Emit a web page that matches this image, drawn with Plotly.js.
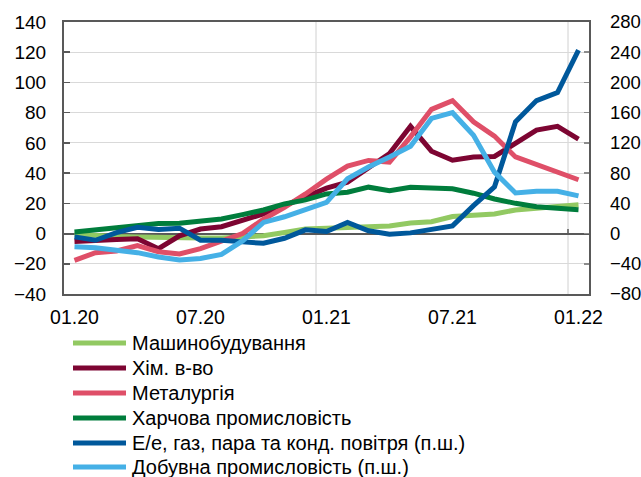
<!DOCTYPE html>
<html>
<head>
<meta charset="utf-8">
<script src="https://cdn.plot.ly/plotly-3.0.1.min.js"></script>
<style>html,body{margin:0;padding:0;background:#fff;}#chart{width:641px;height:477px;}</style>
</head>
<body>
<div id="chart"></div>
<script>
// Categories (months)
const months = ['01.20','02.20','03.20','04.20','05.20','06.20','07.20','08.20','09.20','10.20','11.20','12.20',
                '01.21','02.21','03.21','04.21','05.21','06.21','07.21','08.21','09.21','10.21','11.21','12.21','01.22'];
const tickLabels = ['01.20','07.20','01.21','07.21','01.22'];

// Series names
const names = ['Машинобудування','Хім. в-во','Металургія','Харчова промисловість',
               'Е/е, газ, пара та конд. повітря (п.ш.)','Добувна промисловість (п.ш.)'];

// Left axis series
const machinery = [-0.4,-1.5,-2,-2.2,-2.7,-3,-3,-3,-2.5,-1.5,0.7,3,3.5,4,4,5,7,7.8,11.3,11.8,13,15.6,17,17.8,19];
const chemical  = [-5.3,-4.4,-4,-3.5,-10,-1.5,3,4.5,8.5,13,18.5,24,30,34,44,53,71,54.5,48.5,50.7,51,59.6,68.5,71,62.5];
const metallurgy= [-17.7,-12.7,-11.5,-8,-12,-13.5,-10,-5,0,9.5,17.3,26.2,36,44.7,48.4,47.3,64,82.2,88,74,64.5,50.7,45.8,41.3,35.6];
const food      = [1.1,2.4,4,5.8,6.7,6.9,8,9.6,12.5,15.6,19.6,22.3,26.2,27.3,30.7,28.4,30.7,30.2,29.6,26.7,22.9,20,17.8,16.7,15.8];
// Right axis series
const energy    = [-4.4,-8.9,1.3,8.4,5.3,7.1,-8.9,-8.9,-11,-12.9,-6.2,4.9,2.7,14.7,3.6,-0.9,0.9,5.8,10.2,37,61.8,148,176,186.7,242.7];
const mining    = [-17.3,-18.7,-22.2,-25.3,-31,-35,-32.9,-27.6,-9.8,14.7,22.2,31.1,41.3,72.4,88,101.3,115.6,152.4,160,130.2,81.3,53.8,56,56,49.8];

const colors = ['#92c962','#7d0532','#df4f68','#007d3c','#00589b','#45b0e6'];
const series = [machinery, chemical, metallurgy, food, energy, mining];
const axes = ['y','y','y','y','y2','y2'];

const FONT = 'Liberation Sans, Arial, sans-serif';
const FS = 19;

const traces = series.map((s, k) => ({
  x: months, y: s, name: names[k], type: 'scatter', mode: 'lines', yaxis: axes[k],
  line: {color: colors[k], width: 5}, showlegend: false, hoverinfo: 'skip'
}));

// pixel -> paper helpers for legend placement
const L = 64, R = 52, T = 22, B = 183, W = 641, H = 477;
const pw = W - L - R, ph = H - T - B;
const px = x => (x - L) / pw;
const py = y => (H - B - y) / ph;

const legendY = [343, 368, 393, 418, 443, 467];
const shapes = [
  {type:'line', xref:'x', yref:'paper', x0:11.5, x1:11.5, y0:0, y1:1, line:{color:'#d0d0d0', width:1}, layer:'below'},
  {type:'line', xref:'x', yref:'paper', x0:23.5, x1:23.5, y0:0, y1:1, line:{color:'#d0d0d0', width:1}, layer:'below'},
  {type:'line', xref:'x', yref:'y', x0:11.5, x1:11.5, y0:0, y1:3, line:{color:'#595959', width:1.5}, layer:'below'},
  {type:'line', xref:'x', yref:'y', x0:23.5, x1:23.5, y0:0, y1:3, line:{color:'#595959', width:1.5}, layer:'below'}
];
const annotations = [];
names.forEach((n, k) => {
  shapes.push({type:'line', xref:'paper', yref:'paper', x0:px(73), x1:px(126), y0:py(legendY[k]), y1:py(legendY[k]),
               line:{color:colors[k], width:5}});
  annotations.push({xref:'paper', yref:'paper', x:px(130), y:py(legendY[k]), xanchor:'left', yanchor:'middle',
                    text:n, showarrow:false, font:{family:FONT, size:20, color:'#000'}});
});

const layout = {
  width: W, height: H,
  margin: {l:L, r:R, t:T, b:B, pad:0},
  paper_bgcolor:'#fff', plot_bgcolor:'#fff',
  showlegend:false,
  font:{family:FONT, size:FS, color:'#000'},
  xaxis: {
    type:'category', range:[-0.5, 24.5], tickmode:'array', tickvals: tickLabels, ticktext: tickLabels,
    showgrid:false, zeroline:false, showline:true, mirror:true, linecolor:'#595959', linewidth:2,
    ticks:'', ticklabelstandoff: 5, tickfont:{family:FONT, size:19.5, color:'#000'}
  },
  yaxis: {
    range:[-40,140], dtick:20, tick0:0, showgrid:true, gridcolor:'#d9d9d9', gridwidth:1,
    zeroline:true, zerolinecolor:'#595959', zerolinewidth:2,
    showline:true, mirror:true, linecolor:'#595959', linewidth:2,
    ticks:'inside', ticklen:6, tickcolor:'#595959', tickwidth:1.5,
    ticklabelstandoff: 12, tickfont:{family:FONT, size:FS, color:'#000'}
  },
  yaxis2: {
    overlaying:'y', side:'right', range:[-80,280], dtick:40, tick0:0, showgrid:false, zeroline:false,
    showline:false, ticks:'inside', ticklen:5, tickcolor:'#8c8c8c', tickwidth:1.5,
    ticklabelstandoff: 20, tickfont:{family:FONT, size:18.5, color:'#000'}
  },
  shapes: shapes,
  annotations: annotations
};

Plotly.newPlot('chart', traces, layout, {staticPlot:true, displayModeBar:false});
</script>
</body>
</html>
